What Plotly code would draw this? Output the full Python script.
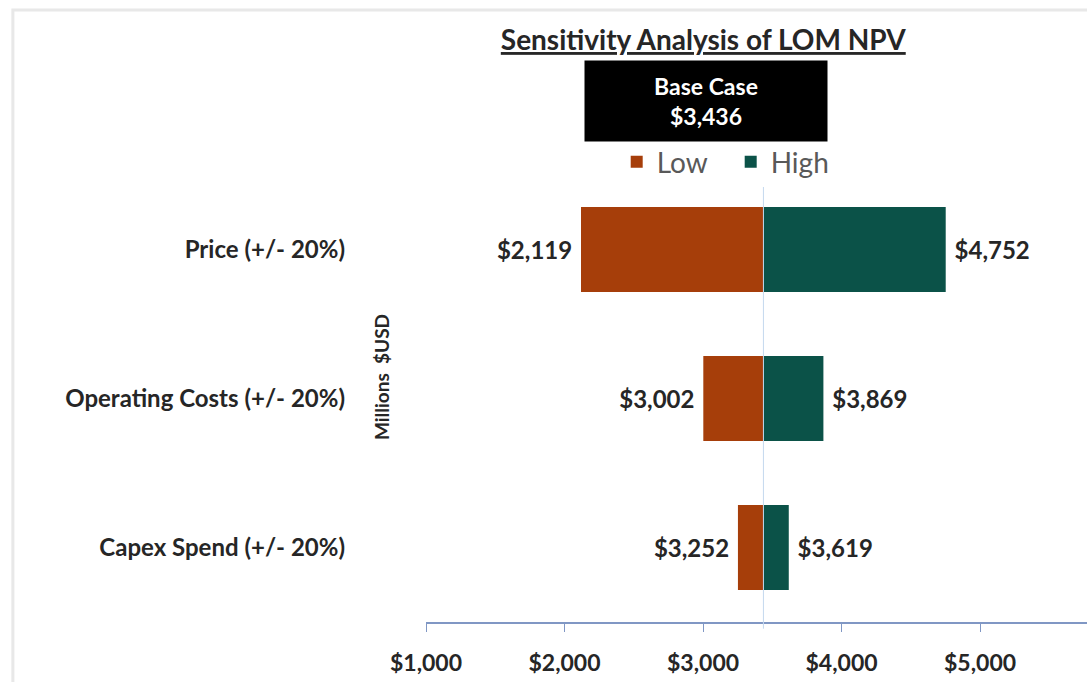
import plotly.graph_objects as go

# data (millions USD)
categories = ["Price (+/- 20%)", "Operating Costs (+/- 20%)", "Capex Spend (+/- 20%)"]
low_values = [2119, 3002, 3252]
high_values = [4752, 3869, 3619]
base_case = 3436
x_ticks = [1000, 2000, 3000, 4000, 5000]

LOW_COLOR = "#A63E0A"
HIGH_COLOR = "#0B5248"
TEXT = "#262626"
FONT = "Lato"

fig = go.Figure()

fig.add_trace(go.Bar(
    name="Low",
    y=categories,
    x=[v - base_case for v in low_values],
    base=[base_case] * len(low_values),
    orientation="h",
    marker=dict(color=LOW_COLOR, line=dict(width=0)),
    text=[f"${v:,}&nbsp;" for v in low_values],
    textposition="outside",
    textfont=dict(family=FONT, size=24, color=TEXT, weight="bold"),
    cliponaxis=False,
))
fig.add_trace(go.Bar(
    name="High",
    y=categories,
    x=[v - base_case for v in high_values],
    base=[base_case] * len(high_values),
    orientation="h",
    marker=dict(color=HIGH_COLOR, line=dict(width=0)),
    text=[f"&nbsp;${v:,}" for v in high_values],
    textposition="outside",
    textfont=dict(family=FONT, size=24, color=TEXT, weight="bold"),
    cliponaxis=False,
))

# base case line
fig.add_shape(type="line", xref="x", yref="paper",
              x0=base_case, x1=base_case, y0=-0.015, y1=0.975,
              line=dict(color="#C4D9EE", width=1), layer="above")

# outer chart border (faint)
fig.add_shape(type="rect", xref="paper", yref="paper",
              x0=-0.625, x1=1.02, y0=-0.2, y1=1.369,
              line=dict(color="#E8E8E8", width=3))

# base case box
fig.add_annotation(
    xref="paper", yref="paper", x=0.4236, y=1.1655,
    text=f"<b>Base Case<br>${base_case:,}</b>",
    showarrow=False, bgcolor="black", width=240, height=78,
    font=dict(family=FONT, size=23, color="white"),
    xanchor="center", yanchor="middle",
)

# axis unit label
fig.add_annotation(
    xref="paper", yref="paper", x=-0.068, y=0.548,
    text="<b>Millions&nbsp;&nbsp;$USD</b>", textangle=-90, showarrow=False,
    font=dict(family=FONT, size=19, color=TEXT),
    xanchor="center", yanchor="middle",
)

fig.update_layout(
    width=1087, height=682,
    margin=dict(l=426, r=0, t=175, b=60),
    paper_bgcolor="white", plot_bgcolor="white",
    barmode="overlay", bargap=0.43,
    title=dict(
        text="<b><u>Sensitivity Analysis of LOM NPV</u></b>",
        x=0.647, y=0.941, xanchor="center", yanchor="middle",
        font=dict(family=FONT, size=28, color=TEXT),
    ),
    legend=dict(
        orientation="h", x=0.2885, y=1.029, xanchor="left", yanchor="middle",
        font=dict(family=FONT, size=28, color="#595959"),
        itemwidth=30, entrywidth=69, traceorder="normal",
    ),
    xaxis=dict(
        range=[1000, 5772], tickvals=x_ticks, tickformat="$,.0f",
        showgrid=False, zeroline=False,
        showline=True, linecolor="#8097C4", linewidth=1.5,
        ticks="outside", ticklen=8, tickcolor="#8097C4",
        tickfont=dict(family=FONT, size=23, color=TEXT, weight="bold"),
        ticklabelstandoff=12,
    ),
    yaxis=dict(
        range=[2.5, -0.5], showgrid=False, zeroline=False, showline=False,
        ticks="", ticklabelstandoff=80,
        tickfont=dict(family=FONT, size=24, color=TEXT, weight="bold"),
    ),
)

# page body has a default 8px margin; drop it so the figure sits at 0,0
fig.write_html("out.html", config={"displayModeBar": False},
               post_script="document.body.style.margin='0';")
